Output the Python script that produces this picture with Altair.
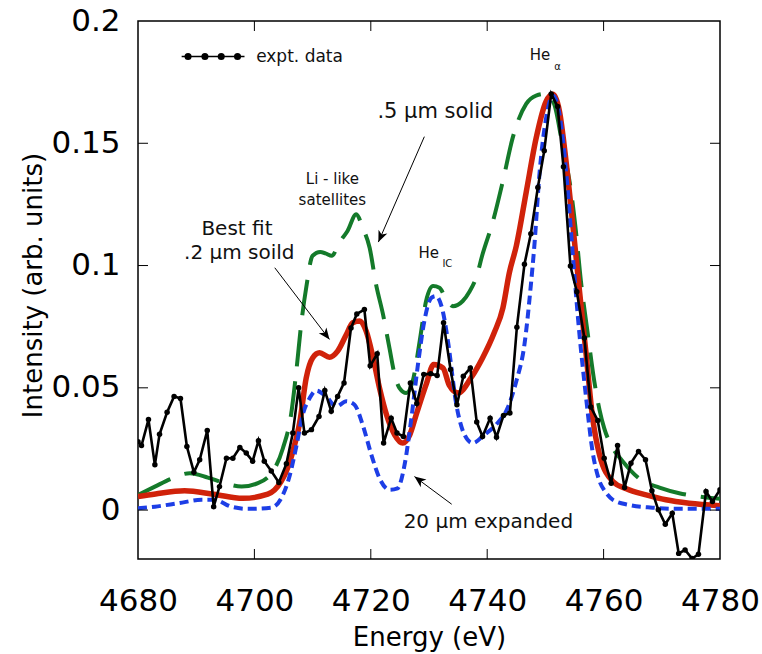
import math
import altair as alt
import pandas as pd

# ---------------- data ----------------
E_exp = [4680.0, 4680.6, 4681.8, 4682.9, 4683.7, 4685.0, 4686.2, 4687.3, 4688.4, 4689.6,
         4690.6, 4691.9, 4693.0, 4694.0, 4695.2, 4696.3, 4697.5, 4698.6, 4699.7, 4700.7,
         4701.7, 4702.9, 4704.2, 4705.5, 4706.6, 4707.6, 4708.6, 4709.8, 4711.1, 4712.1,
         4713.2, 4714.3, 4715.4, 4716.6, 4717.6, 4718.9, 4719.9, 4721.1, 4722.2, 4723.5,
         4724.5, 4725.6, 4726.8, 4727.9, 4729.1, 4730.3, 4731.4, 4732.5, 4733.7, 4734.8,
         4735.9, 4737.1, 4738.2, 4739.2, 4740.5, 4741.6, 4742.8, 4743.9, 4745.1, 4746.4,
         4747.5, 4748.7, 4749.8, 4751.0, 4752.1, 4753.1, 4754.3, 4755.4, 4756.7, 4757.8,
         4759.0, 4760.1, 4761.3, 4762.4, 4763.6, 4764.7, 4766.0, 4767.2, 4768.3, 4769.4,
         4770.6, 4771.8, 4772.9, 4774.0, 4775.2, 4776.3, 4777.6, 4778.7, 4780.0]
I_exp = [0.028, 0.0264, 0.037, 0.0185, 0.031, 0.040, 0.0465, 0.0456, 0.026, 0.0155,
         0.0206, 0.0325, 0.0014, 0.0096, 0.0212, 0.0212, 0.0256, 0.0233, 0.020, 0.0284,
         0.020, 0.016, 0.0113, 0.019, 0.0315, 0.050, 0.0315, 0.0329, 0.0383, 0.0489,
         0.0404, 0.0465, 0.052, 0.0745, 0.0802, 0.082, 0.059, 0.0639, 0.0274, 0.0376,
         0.0315, 0.0301, 0.052, 0.0436, 0.0555, 0.0558, 0.055, 0.0766, 0.0575, 0.0431,
         0.0547, 0.0581, 0.036, 0.0301, 0.0376, 0.0298, 0.0387, 0.0397, 0.0748, 0.1005,
         0.113, 0.1319, 0.1469, 0.1702, 0.165, 0.1404, 0.0998, 0.0893, 0.0704, 0.0422,
         0.0366, 0.0212, 0.011, 0.0264, 0.0092, 0.0192, 0.024, 0.0206, 0.0079, 0.0001,
         -0.0058, -0.0013, -0.0177, -0.0163, -0.0198, -0.0181, 0.0076, 0.0035, 0.0083]

# best fit .2 um solid (red)
E_fit = [4680, 4683, 4688, 4693, 4698, 4702.3, 4704.6, 4705.5, 4706.6, 4707.8, 4708.9,
         4710, 4711.2, 4712.9, 4714.3, 4715.8, 4716.9, 4718.1, 4719.2, 4720.4, 4721.5,
         4722.7, 4724.1, 4725.5, 4726.7, 4727.8, 4729.5, 4730.8, 4732.4, 4733.5, 4735,
         4737.2, 4739.2, 4741.2, 4742.7, 4743.8, 4745, 4746.7, 4748.4, 4750.1, 4751.3,
         4752.4, 4753.6, 4754.7, 4755.8, 4757, 4758.1, 4759.3, 4761.6, 4763.9, 4767.3,
         4770.7, 4774.7, 4780]
I_fit = [0.0055, 0.0066, 0.0079, 0.0065, 0.0048, 0.0065, 0.0117, 0.016, 0.024, 0.036, 0.054,
         0.0622, 0.0643, 0.0625, 0.065, 0.0718, 0.0766, 0.0773, 0.0732, 0.0622, 0.0499,
         0.039, 0.0308, 0.0274, 0.0308, 0.039, 0.0513, 0.0595, 0.0581, 0.051, 0.0479,
         0.054, 0.0622, 0.0725, 0.0827, 0.097, 0.108, 0.130, 0.152, 0.167, 0.170,
         0.1633, 0.1415, 0.1169, 0.0909, 0.0636, 0.038, 0.0226, 0.0117, 0.0087, 0.0062,
         0.0042, 0.0028, 0.0018]

# 20 um expanded (blue)
E_exp20 = [4680, 4682.9, 4686.9, 4690.9, 4693.2, 4696, 4698.9, 4702.9, 4704.6, 4706,
           4707.2, 4708.3, 4709.5, 4710.6, 4712.3, 4714.1, 4715.8, 4717.2, 4718.6, 4720.1,
           4721.5, 4723.2, 4724.6, 4725.8, 4726.9, 4728.1, 4729.2, 4730.4, 4731.2, 4732.4,
           4733.2, 4734.7, 4736.1, 4737.5, 4739.5, 4741.5, 4743.5, 4745, 4746.4, 4747.5,
           4748.1, 4749, 4750.1, 4751.3, 4752.4, 4753.6, 4754.7, 4755.8, 4757, 4758.1,
           4759.2, 4760.3, 4761.6, 4764.4, 4768.4, 4773, 4780]
I_exp20 = [0.0007, 0.0014, 0.0028, 0.0042, 0.0042, 0.0014, 0.0005, 0.001, 0.0048, 0.0135,
           0.026, 0.039, 0.0458, 0.0489, 0.0465, 0.0424, 0.0445, 0.0431, 0.0349, 0.0226,
           0.013, 0.0083, 0.0089, 0.0185, 0.0363, 0.0595, 0.0773, 0.0868, 0.0875, 0.081,
           0.070, 0.0431, 0.0308, 0.0274, 0.0308, 0.0349, 0.0417, 0.0527, 0.0677, 0.092,
           0.108, 0.138, 0.160, 0.1695, 0.162, 0.1374, 0.1046, 0.0732, 0.0458, 0.024,
           0.0125, 0.0075, 0.0042, 0.0021, 0.001, 0.0005, 0.0005]

# .5 um solid (green)
E_sol5 = [4680, 4682.9, 4685.7, 4688.9, 4692, 4694.9, 4697.8, 4700.6, 4703.5, 4704.9,
          4706.3, 4707.2, 4708.1, 4708.9, 4710, 4711.3, 4712.2, 4713.3, 4714.6, 4716.0,
          4717.5, 4718.6, 4719.8, 4720.9, 4722.1, 4723.2, 4724.1, 4724.9, 4726.1, 4727.2,
          4728.4, 4729.5, 4730.7, 4731.8, 4733, 4734.1, 4735.8, 4737, 4738.1, 4739.2,
          4741, 4742.7, 4744.4, 4746.7, 4748.4, 4750.1, 4751.5, 4753, 4754.4, 4755.3,
          4756.1, 4757.3, 4758.4, 4759.3, 4760.1, 4761.6, 4763.3, 4766.4, 4769.6, 4773,
          4775.3, 4780]
I_sol5 = [0.0062, 0.0096, 0.0128, 0.0151, 0.0133, 0.011, 0.0096, 0.011, 0.0171, 0.0253,
          0.039, 0.0568, 0.0773, 0.0909, 0.1040, 0.1055, 0.1050, 0.1040, 0.1095, 0.1141,
          0.121, 0.1155, 0.1073, 0.0923, 0.08, 0.0663, 0.0554, 0.05, 0.0479, 0.0527,
          0.0691, 0.0855, 0.0916, 0.0909, 0.086, 0.0834, 0.0855, 0.0895, 0.095, 0.1046,
          0.1182, 0.1346, 0.1524, 0.1661, 0.1695, 0.1702, 0.1661, 0.1483, 0.1305, 0.1128,
          0.0937, 0.0718, 0.0527, 0.041, 0.0335, 0.0253, 0.0199, 0.0124, 0.0092, 0.0069,
          0.0059, 0.0046]

x_ticks = [4680, 4700, 4720, 4740, 4760, 4780]
y_ticks = [0, 0.05, 0.1, 0.15, 0.2]
x_dom = [4680, 4780]
y_dom = [-0.02, 0.2]

# annotations (data coordinates)
ann_text = [".5 μm solid", "Li - like", "satellites", "Best fit", ".2 μm soild",
            "20 μm expanded", "He", "He", "expt. data"]
ann_x = [4731.1, 4713.4, 4713.4, 4697.0, 4697.4, 4740.2, 4728.2, 4747.3, 4700.3]
ann_y = [0.1626, 0.1354, 0.1268, 0.1150, 0.1052, -0.0048, 0.1052, 0.1859, 0.1852]
ann_size = [21, 15, 15, 20, 20, 20, 15, 15, 17]
ann_align = ["center", "center", "center", "center", "center", "center", "left", "left", "left"]

sub_text = ["IC", "α"]
sub_x = [4732.3, 4751.5]
sub_y = [0.1008, 0.1810]

arr_x0 = [4729.2, 4703.5, 4733.9]
arr_y0 = [0.1527, 0.0991, 0.0024]
arr_x1 = [4721.3, 4712.9, 4727.5]
arr_y1 = [0.1096, 0.0698, 0.0137]

leg_line_x = [4687.5, 4698.3]
leg_pts_x = [4688.6, 4691.5, 4694.3, 4697.1]
leg_y = 0.1855

# ---------------- layout / style ----------------
W, H = 582, 538
FONT = "DejaVu Sans, sans-serif"
C_RED = "#d0220a"
C_BLUE = "#1d3ee6"
C_GREEN = "#147a2a"
TICK = 10

xs = alt.Scale(domain=x_dom, nice=False, zero=False)
ys = alt.Scale(domain=y_dom, nice=False, zero=False)

def curve_df(E, I):
    return pd.DataFrame({"E": E, "I": I})

X_AX = alt.Axis(values=x_ticks, format="d", ticks=False, tickSize=0, domain=False, grid=False,
                labelFontSize=31, labelFont=FONT, labelColor="black", labelPadding=27,
                title="Energy (eV)", titleFontSize=26, titleFont=FONT, titleFontWeight="normal",
                titleColor="black", titleX=W / 2, titleY=78, titleBaseline="middle",
                labelFlush=False)
Y_AX = alt.Axis(values=y_ticks, format="~g", ticks=False, tickSize=0, domain=False, grid=False,
                labelFontSize=31, labelFont=FONT, labelColor="black", labelPadding=18,
                title="Intensity (arb. units)", titleFontSize=26, titleFont=FONT,
                titleFontWeight="normal", titleColor="black", titleX=-105, titleY=264,
                titleAngle=270, titleBaseline="middle", titleAlign="center",
                labelFlush=False)

x_enc = alt.X("E:Q", scale=xs, axis=X_AX)
y_enc = alt.Y("I:Q", scale=ys, axis=Y_AX)

base_x = alt.X("E:Q", scale=xs)
base_y = alt.Y("I:Q", scale=ys)

green = alt.Chart(curve_df(E_sol5, I_sol5)).mark_line(
    color=C_GREEN, strokeWidth=4, strokeDash=[36, 15], interpolate="monotone", clip=True
).encode(x=x_enc, y=y_enc)

red = alt.Chart(curve_df(E_fit, I_fit)).mark_line(
    color=C_RED, strokeWidth=5.5, interpolate="monotone", clip=True
).encode(x=base_x, y=base_y)

blue = alt.Chart(curve_df(E_exp20, I_exp20)).mark_line(
    color=C_BLUE, strokeWidth=4, strokeDash=[9, 5], interpolate="monotone", clip=True
).encode(x=base_x, y=base_y)

exp_df = curve_df(E_exp, I_exp)
black_line = alt.Chart(exp_df).mark_line(color="black", strokeWidth=2.6, clip=True).encode(
    x=base_x, y=base_y)
black_pts = alt.Chart(exp_df).mark_circle(color="black", size=30, opacity=1, clip=True).encode(
    x=base_x, y=base_y)

# legend sample
leg_line = alt.Chart(pd.DataFrame({"E": leg_line_x, "I": [leg_y] * len(leg_line_x)})).mark_line(
    color="black", strokeWidth=1.5).encode(x=base_x, y=base_y)
leg_pts = alt.Chart(pd.DataFrame({"E": leg_pts_x, "I": [leg_y] * len(leg_pts_x)})).mark_circle(
    color="black", size=50, opacity=1).encode(x=base_x, y=base_y)

# text annotations
ann_df = pd.DataFrame({"t": ann_text, "E": ann_x, "I": ann_y, "s": ann_size, "a": ann_align})
texts = []
for a in ["center", "left"]:
    for s in sorted(set(ann_size)):
        sub = ann_df[(ann_df.s == s) & (ann_df.a == a)]
        if len(sub) == 0:
            continue
        texts.append(alt.Chart(sub).mark_text(
            font=FONT, fontSize=s, align=a, baseline="middle", color="#111111"
        ).encode(x=base_x, y=base_y, text="t:N"))

sub_df = pd.DataFrame({"t": sub_text, "E": sub_x, "I": sub_y})
subs = alt.Chart(sub_df).mark_text(font=FONT, fontSize=10, align="left", baseline="middle",
                                   color="#111111").encode(x=base_x, y=base_y, text="t:N")

# arrows
px_per_x = W / (x_dom[1] - x_dom[0])
px_per_y = H / (y_dom[1] - y_dom[0])
angles = []
for x0, y0, x1, y1 in zip(arr_x0, arr_y0, arr_x1, arr_y1):
    dx = (x1 - x0) * px_per_x
    dy = -(y1 - y0) * px_per_y
    angles.append(math.degrees(math.atan2(dx, -dy)) % 360)
arr_df = pd.DataFrame({"E": arr_x0, "I": arr_y0, "E2": arr_x1, "I2": arr_y1, "ang": angles})
arr_lines = alt.Chart(arr_df).mark_rule(color="black", strokeWidth=1).encode(
    x=base_x, y=base_y, x2="E2:Q", y2="I2:Q")
arr_heads = alt.Chart(arr_df).mark_point(
    shape="M0,0L-0.42,1L0,0.72L0.42,1Z", filled=True, color="black", opacity=1, size=520,
    strokeWidth=0
).encode(x=alt.X("E2:Q", scale=xs), y=alt.Y("I2:Q", scale=ys), angle=alt.Angle("ang:Q", scale=None))

# inward ticks on all four sides
xt = pd.DataFrame({"E": x_ticks[1:-1]})
yt = pd.DataFrame({"I": y_ticks[:-1]})
tick_b = alt.Chart(xt).mark_rule(color="black", strokeWidth=1).encode(
    x=base_x, y=alt.value(H), y2=alt.value(H - TICK))
tick_t = alt.Chart(xt).mark_rule(color="black", strokeWidth=1).encode(
    x=base_x, y=alt.value(0), y2=alt.value(TICK))
tick_l = alt.Chart(yt).mark_rule(color="black", strokeWidth=1).encode(
    y=base_y, x=alt.value(0), x2=alt.value(TICK))
tick_r = alt.Chart(yt).mark_rule(color="black", strokeWidth=1).encode(
    y=base_y, x=alt.value(W), x2=alt.value(W - TICK))

chart = alt.layer(
    green, red, blue, black_line, black_pts, leg_line, leg_pts,
    *texts, subs, arr_lines, arr_heads, tick_b, tick_t, tick_l, tick_r
).properties(
    width=W, height=H,
    autosize=alt.AutoSizeParams(type="none"),
    padding={"left": 138, "top": 21, "right": 42, "bottom": 95},
    background="white",
).configure_view(stroke="black", strokeWidth=1.5)

chart.save("out.html", embed_options={"renderer": "svg", "actions": False})
